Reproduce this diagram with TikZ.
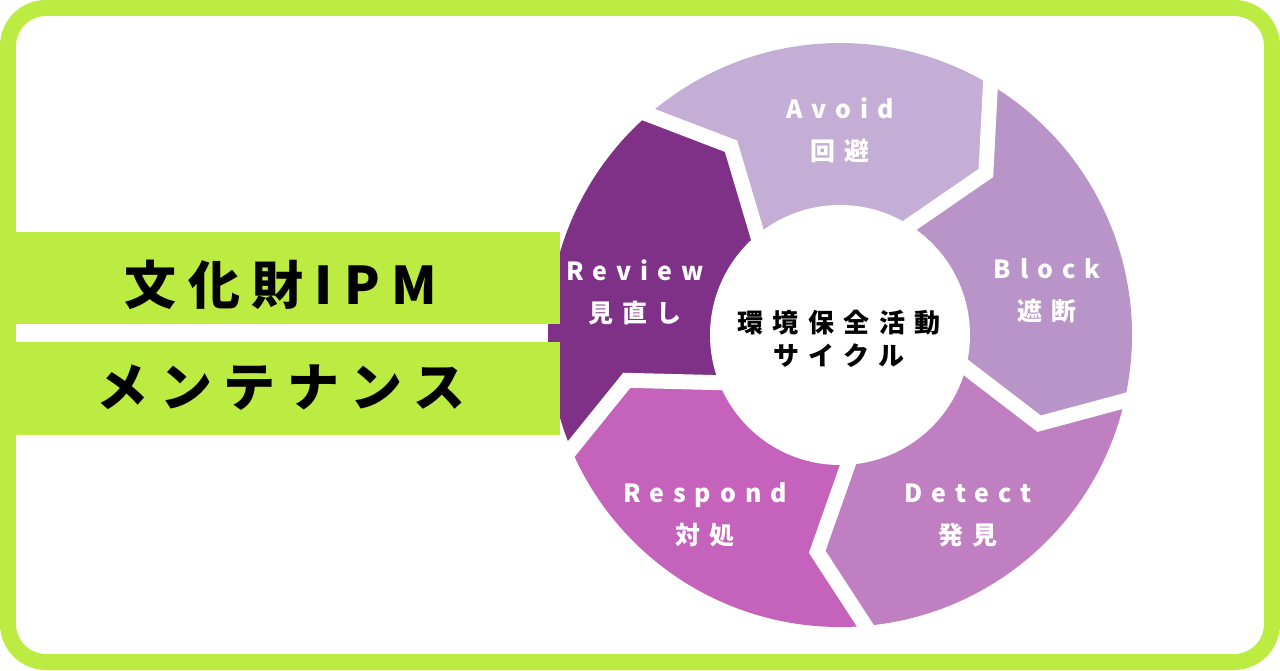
\documentclass[tikz,border=0pt]{standalone}
\usepackage{fontspec}
\setmainfont{Noto Sans CJK JP}
\newfontfamily\labfont{Noto Sans CJK JP}[LetterSpace=36]
\newfontfamily\banfont{Noto Sans CJK JP}[LetterSpace=22]
\usetikzlibrary{calc}

\definecolor{limec}{HTML}{BCEB42}
\definecolor{avoidc}{HTML}{C4AED6}
\definecolor{blockc}{HTML}{B894C8}
\definecolor{detectc}{HTML}{BF7FC1}
\definecolor{respondc}{HTML}{C462BC}
\definecolor{reviewc}{HTML}{7F3087}

\tikzset{
	seglabel/.style={align=center, text=white,
	font={\labfont\bfseries\fontsize{14.2}{23.9}\selectfont}},
	hublabel/.style={align=center, text=black,
	font={\labfont\bfseries\fontsize{14.8}{18.8}\selectfont}},
	bannertext/.style={text=black,
	font={\banfont\bfseries\fontsize{29.6}{32}\selectfont}},
	banner/.style={fill=limec},
	gapline/.style={white, line width=0.3cm}
}

\begin{document}
\begin{tikzpicture}[x=0.02cm, y=0.02cm]
	\useasboundingbox (0, 0) rectangle (1280, 670);
	\fill [white] (0, 0) rectangle (1280, 670);

	\coordinate (Hub) at (840, 335);
	\foreach \a/\col in {132/avoidc, 60/blockc, -12/detectc, -84/respondc, -156/reviewc}
		\fill [\col, shift={(Hub)}] (\a:292) arc [start angle=\a, delta angle=-72, radius=292]
		-- ({\a-84}:218) -- ({\a-72}:128) arc [start angle={\a-72}, delta angle=72, radius=128]
		-- ({\a-12}:218) -- cycle;
	\foreach \a in {132, 60, -12, -84, -156}
		\draw [gapline, shift={(Hub)}] (\a:118) -- ({\a-12}:218) -- (\a:302);
	\node (Core) at (Hub) [circle, fill=white, minimum size=5.2cm, inner sep=0pt] {};

	\node (Avoid) at (840, 540)   [seglabel] {Avoid\\回避};
	\node (Block) at (1047, 379)  [seglabel] {Block\\遮断};
	\node (Detect) at (968, 155)  [seglabel] {Detect\\発見};
	\node (Respond) at (705, 155) [seglabel] {Respond\\対処};
	\node (Review) at (635, 378)  [seglabel] {Review\\見直し};
	\node (Cycle) at (839, 331.5) [hublabel] {環境保全活動\\サイクル};

	\fill [banner] (16, 346) rectangle (560, 438);
	\fill [banner] (16, 235) rectangle (560, 328);
	\node (Title) at (281, 385)    [bannertext] {文化財IPM};
	\node (Subtitle) at (281, 282) [bannertext] {メンテナンス};

	\draw [limec, line width=0.32cm, rounded corners=0.76cm] (8, 8) rectangle (1272, 662);
\end{tikzpicture}
\end{document}
